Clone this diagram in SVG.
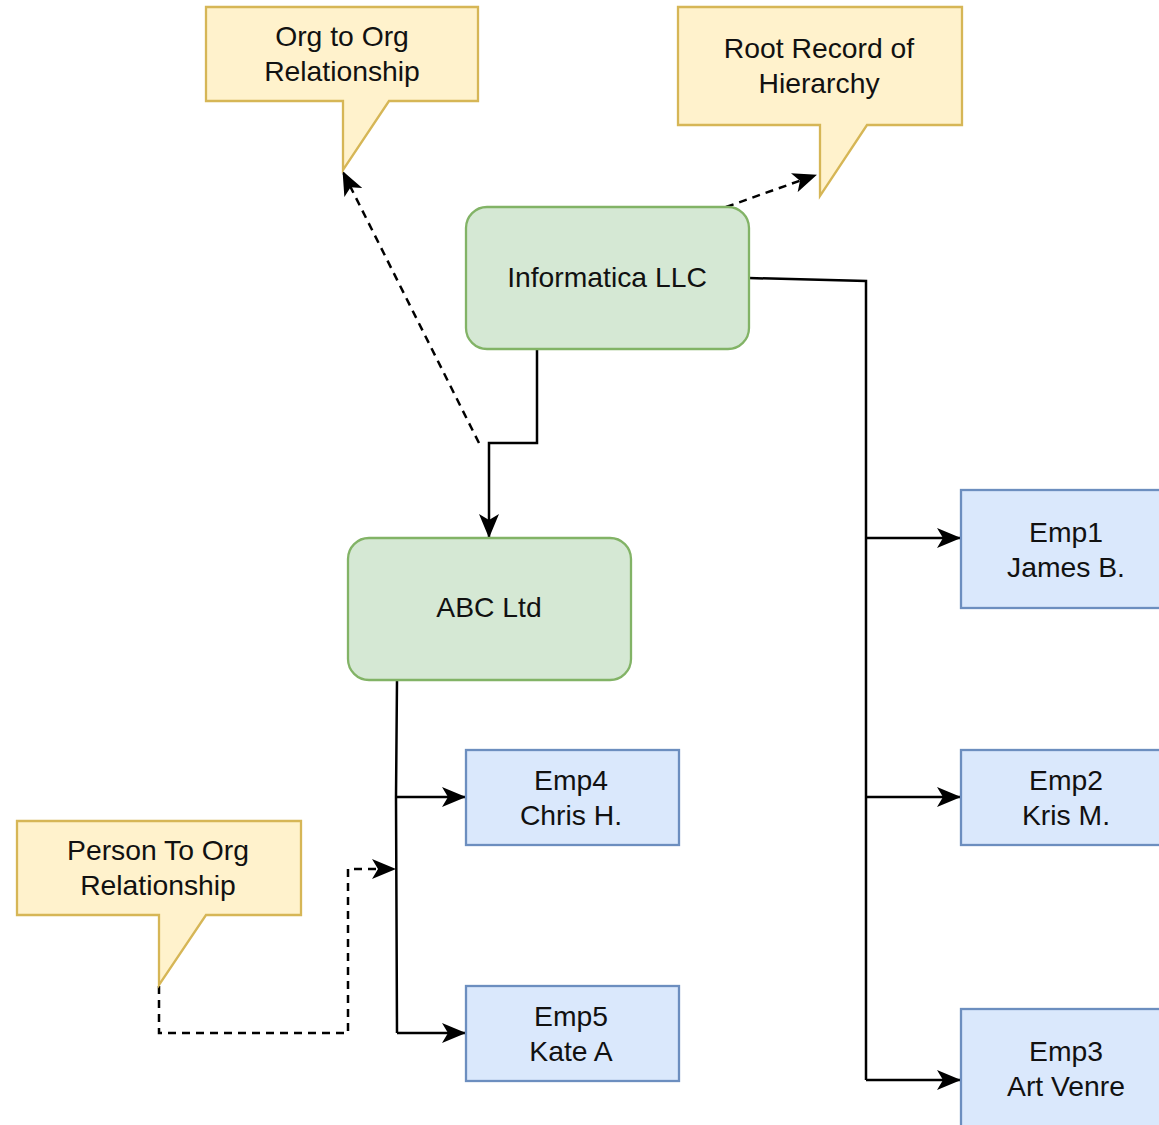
<svg xmlns="http://www.w3.org/2000/svg" width="1159" height="1125" viewBox="0 0 1159 1125">
<style>
.t{font-family:"Liberation Sans",Arial,sans-serif;font-size:28.3px;fill:#111;text-anchor:middle}
.call{fill:#fff2cc;stroke:#d6b656;stroke-width:2.3}
.org{fill:#d5e8d4;stroke:#82b366;stroke-width:2.3}
.emp{fill:#dae8fc;stroke:#6c8ebf;stroke-width:2.3}
.ln{fill:none;stroke:#000;stroke-width:2.5}
.dash{fill:none;stroke:#000;stroke-width:2.5;stroke-dasharray:8 6}
</style>
<defs>
<marker id="arr" viewBox="0 0 24 20" refX="23" refY="10" markerWidth="24" markerHeight="20" markerUnits="userSpaceOnUse" orient="auto">
<path d="M0,0 L24,10 L0,20 L6,10 z" fill="#000"/>
</marker>
</defs>
<rect width="1159" height="1125" fill="#fff"/>
<g id="connectors">
<path class="ln" d="M749,278 L866,281 L866,1080" />
<path class="ln" d="M866,538 L960,538" marker-end="url(#arr)"/>
<path class="ln" d="M866,797 L960,797" marker-end="url(#arr)"/>
<path class="ln" d="M866,1080 L960,1080" marker-end="url(#arr)"/>
<path class="ln" d="M537,349 L537,443 L489,443 L489,537" marker-end="url(#arr)"/>
<path class="dash" d="M479,443 L343,172" marker-end="url(#arr)"/>
<path class="dash" d="M726,207 L816,175" marker-end="url(#arr)"/>
<path class="ln" d="M397,680 L396,797 L397,1033"/>
<path class="ln" d="M396,797 L465,797" marker-end="url(#arr)"/>
<path class="ln" d="M397,1033 L465,1033" marker-end="url(#arr)"/>
<path class="dash" d="M159,986 L159,1033 L348,1033 L348,869 L395,869" marker-end="url(#arr)"/>
</g>
<g id="callout-org">
<path class="call" d="M206,7 L478,7 L478,101 L389,101 L343,170 L343,101 L206,101 Z"/>
<text class="t" x="342" y="46">Org to Org</text>
<text class="t" x="342" y="81">Relationship</text>
</g>
<g id="callout-root">
<path class="call" d="M678,7 L962,7 L962,125 L867,125 L820,196 L820,125 L678,125 Z"/>
<text class="t" x="819" y="58">Root Record of</text>
<text class="t" x="819" y="93">Hierarchy</text>
</g>
<g id="callout-person">
<path class="call" d="M17,821 L301,821 L301,915 L206,915 L159,985 L159,915 L17,915 Z"/>
<text class="t" x="158" y="860">Person To Org</text>
<text class="t" x="158" y="895">Relationship</text>
</g>
<g id="informatica">
<rect class="org" x="466" y="207" width="283" height="142" rx="21"/>
<text class="t" x="607" y="287">Informatica LLC</text>
</g>
<g id="abc">
<rect class="org" x="348" y="538" width="283" height="142" rx="21"/>
<text class="t" x="489" y="617">ABC Ltd</text>
</g>
<g id="emp1">
<rect class="emp" x="961" y="490" width="212" height="118"/>
<text class="t" x="1066" y="542">Emp1</text>
<text class="t" x="1066" y="577">James B.</text>
</g>
<g id="emp2">
<rect class="emp" x="961" y="750" width="212" height="95"/>
<text class="t" x="1066" y="790">Emp2</text>
<text class="t" x="1066" y="825">Kris M.</text>
</g>
<g id="emp3">
<rect class="emp" x="961" y="1009" width="212" height="140"/>
<text class="t" x="1066" y="1061">Emp3</text>
<text class="t" x="1066" y="1096">Art Venre</text>
</g>
<g id="emp4">
<rect class="emp" x="466" y="750" width="213" height="95"/>
<text class="t" x="571" y="790">Emp4</text>
<text class="t" x="571" y="825">Chris H.</text>
</g>
<g id="emp5">
<rect class="emp" x="466" y="986" width="213" height="95"/>
<text class="t" x="571" y="1026">Emp5</text>
<text class="t" x="571" y="1061">Kate A</text>
</g>
</svg>
